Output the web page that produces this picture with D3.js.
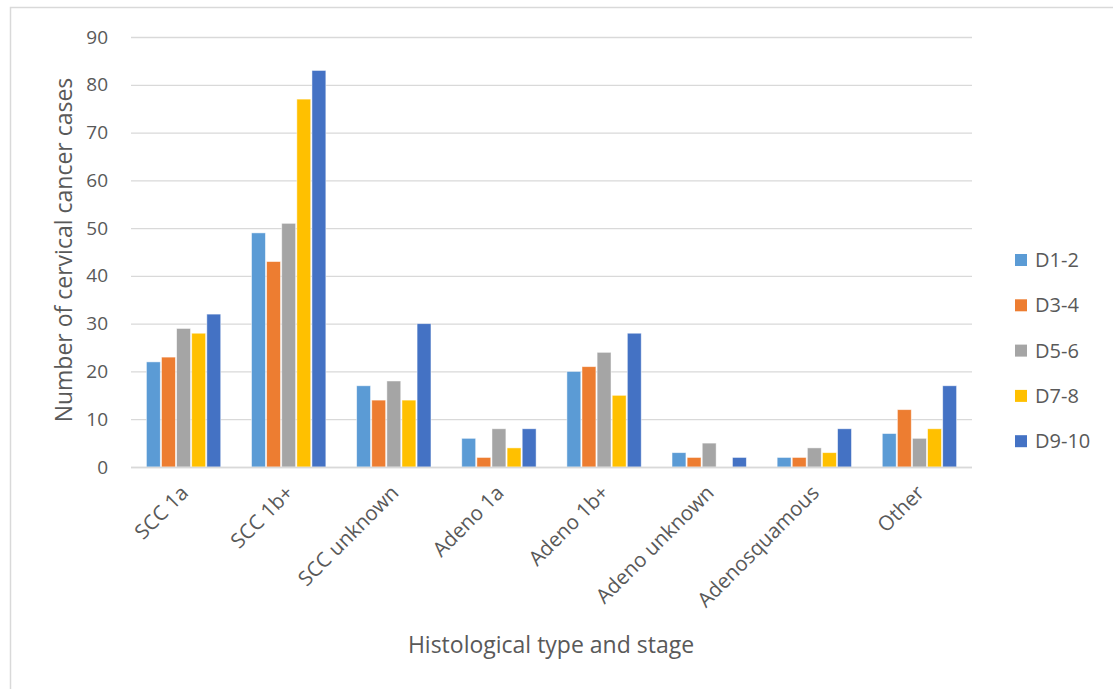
<!DOCTYPE html>
<html>
<head>
<meta charset="utf-8">
<script src="https://cdn.jsdelivr.net/npm/d3@7"></script>
<style>
  html, body { margin: 0; padding: 0; background: #fff; }
  svg { display: block; font-family: "Open Sans", sans-serif; }
</style>
</head>
<body>
<svg id="chart" width="1113" height="689"></svg>
<script>
// Histological categories along the x axis
const categories = ["SCC 1a", "SCC 1b+", "SCC unknown", "Adeno 1a", "Adeno 1b+", "Adeno unknown", "Adenosquamous", "Other"];
// Deprivation groups (legend series)
const seriesNames = ["D1-2", "D3-4", "D5-6", "D7-8", "D9-10"];
const seriesColors = ["#5B9BD5", "#ED7D31", "#A5A5A5", "#FFC000", "#4472C4"];
// Case counts per series, one value per category
const d12 = [22, 49, 17, 6, 20, 3, 2, 7];
const d34 = [23, 43, 14, 2, 21, 2, 2, 12];
const d56 = [29, 51, 18, 8, 24, 5, 4, 6];
const d78 = [28, 77, 14, 4, 15, 0, 3, 8];
const d910 = [32, 83, 30, 8, 28, 2, 8, 17];
const seriesValues = [d12, d34, d56, d78, d910];
const yTicks = [0, 10, 20, 30, 40, 50, 60, 70, 80, 90];

const svg = d3.select("#chart");
const textColor = "#595959";
const font = "'Open Sans', sans-serif";

// Outer chart frame
svg.append("rect")
  .attr("x", 10.5).attr("y", 7.5)
  .attr("width", 1200).attr("height", 800)
  .attr("fill", "none").attr("stroke", "#D9D9D9").attr("stroke-width", 1.5);

const plot = { left: 131, right: 972, top: 37, bottom: 467 };

const y = d3.scaleLinear().domain([0, 90]).range([plot.bottom, plot.top]);
const x0 = d3.scaleBand().domain(categories).range([plot.left, plot.right])
  .paddingInner(0.27).paddingOuter(0.135);
const x1 = d3.scaleBand().domain(seriesNames).range([0, x0.bandwidth()]).padding(0.08);

// Gridlines and y tick labels
const yAxis = d3.axisLeft(y).tickValues(yTicks).tickSize(-(plot.right - plot.left)).tickPadding(23);
const gy = svg.append("g").attr("transform", `translate(${plot.left},0)`).call(yAxis);
gy.select(".domain").remove();
gy.selectAll(".tick line").attr("stroke", "#D9D9D9").attr("stroke-width", 1.3);
gy.selectAll(".tick text").attr("fill", textColor).style("font-size", "19px")
  .style("font-family", font);

// Bars
const groups = svg.append("g").selectAll("g")
  .data(categories)
  .join("g")
  .attr("transform", d => `translate(${x0(d)},0)`);

groups.selectAll("rect")
  .data((c, ci) => seriesNames.map((s, si) => ({ s, si, v: seriesValues[si][ci] })))
  .join("rect")
  .attr("x", d => x1(d.s))
  .attr("width", x1.bandwidth())
  .attr("y", d => y(d.v))
  .attr("height", d => y(0) - y(d.v))
  .attr("fill", d => seriesColors[d.si])
  .attr("stroke", "#fff")
  .attr("stroke-width", 0.8)
  .attr("stroke-opacity", 0.6);

// Baseline
svg.append("line")
  .attr("x1", plot.left).attr("x2", plot.right)
  .attr("y1", y(0) + 0.5).attr("y2", y(0) + 0.5)
  .attr("stroke", "#D9D9D9").attr("stroke-width", 1.5);

// Category labels, rotated
const xAxis = d3.axisBottom(x0).tickSize(0).tickPadding(0);
const gx = svg.append("g").attr("transform", `translate(0,${plot.bottom})`).call(xAxis);
gx.select(".domain").remove();
gx.selectAll(".tick text")
  .attr("fill", textColor)
  .style("font-size", "20.5px")
  .style("font-family", font)
  .attr("text-anchor", "end")
  .attr("y", 0).attr("dy", "0.35em")
  .attr("transform", "translate(1,22) rotate(-45)");

// Axis titles
svg.append("text")
  .attr("x", 551)
  .attr("y", 653)
  .attr("text-anchor", "middle")
  .attr("fill", textColor)
  .style("font-size", "23px")
  .text("Histological type and stage");

svg.append("text")
  .attr("transform", `translate(72,${250}) rotate(-90)`)
  .attr("text-anchor", "middle")
  .attr("fill", textColor)
  .style("font-size", "23px")
  .text("Number of cervical cancer cases");

// Legend
const legend = svg.append("g").selectAll("g")
  .data(seriesNames)
  .join("g")
  .attr("transform", (d, i) => `translate(1015,${260 + i * 45.3})`);
legend.append("rect")
  .attr("x", 0).attr("y", -6).attr("width", 12).attr("height", 12)
  .attr("fill", (d, i) => seriesColors[i]);
legend.append("text")
  .attr("x", 20).attr("y", 0).attr("dy", "0.35em")
  .attr("fill", textColor)
  .style("font-size", "20px")
  .text(d => d);
</script>
</body>
</html>
